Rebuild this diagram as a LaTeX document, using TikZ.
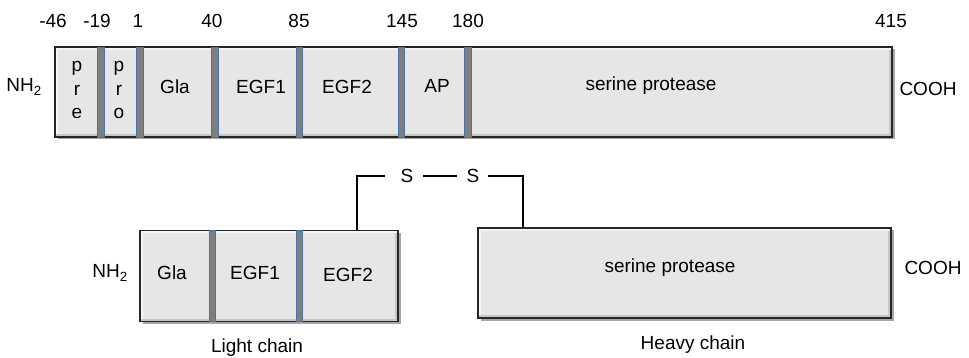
\documentclass[tikz,border=0pt]{standalone}
\usepackage{fontspec}
\setmainfont{Liberation Sans}
\usetikzlibrary{shadows,calc}
\definecolor{boxfill}{HTML}{E6E6E6}
\definecolor{sepfill}{HTML}{7F7F7F}
\definecolor{sepline}{HTML}{4A74A8}
\begin{document}
\begin{tikzpicture}[x=1pt,y=-1pt,
  domainbar/.style={draw=black!85,line width=1.3pt,fill=boxfill,inner sep=0pt,outer sep=0pt,
    drop shadow={shadow xshift=2.5pt,shadow yshift=-2.5pt,opacity=0.35,fill=black},
    path picture={
      \fill[black!22] ([yshift=3pt]path picture bounding box.south west) rectangle (path picture bounding box.south east);
      \fill[black!22] ([xshift=-3pt]path picture bounding box.north east) rectangle (path picture bounding box.south east);
      \fill[white!96!black] (path picture bounding box.north west) rectangle ([yshift=-3pt]path picture bounding box.north east);
      \fill[white!96!black] (path picture bounding box.north west) rectangle ([xshift=3pt,yshift=3pt]path picture bounding box.south west);
    }},
  sepbar/.style={draw=sepline,fill=sepfill,line width=0.9pt,minimum width=6.5pt,inner sep=0pt,outer sep=0pt},
  lbl/.style={font=\fontsize{19}{23.5}\selectfont,inner sep=0pt,text=black},
  bond/.style={line width=2pt,black}]
\useasboundingbox (0,0) rectangle (969,358);
% top precursor bar
\node[domainbar,minimum width=837pt,minimum height=90pt] (full) at (473.5,92) {};
\foreach \n/\x in {s1/101,s2/140,s3/215,s4/299.5,s5/401.5,s6/468}
  \node[sepbar,minimum height=90pt] (\n) at (\x,92) {};
% numbers
\foreach \n/\x/\t in {m46/53/-46,m19/97/-19,p1/138/1,p40/212/40,p85/299/85,p145/402/145,p180/468/180,p415/891/415}
  \node[lbl] (\n) at (\x,21) {\t};
\node[lbl] (nh1) at (24,87) {NH\textsubscript{2}};
\node[lbl] (cooh1) at (928,89) {COOH};
\node[lbl,align=center] (pre) at (77,90) {p\\r\\e};
\node[lbl,align=center] (pro) at (119,90) {p\\r\\o};
\node[lbl] (gla1) at (175,87) {Gla};
\node[lbl] (egf11) at (261,87) {EGF1};
\node[lbl] (egf21) at (347,87) {EGF2};
\node[lbl] (ap) at (437,86) {AP};
\node[lbl] (sp1) at (651,86) {serine protease};
% light chain
\node[domainbar,minimum width=258pt,minimum height=91pt] (light) at (269,276) {};
\foreach \n/\x in {l1/212.5,l2/299.5}
  \node[sepbar,minimum height=91pt] (\n) at (\x,276) {};
\node[lbl] (nh2) at (110,273) {NH\textsubscript{2}};
\node[lbl] (gla2) at (172,273) {Gla};
\node[lbl] (egf12) at (255,273) {EGF1};
\node[lbl] (egf22) at (348,275) {EGF2};
\node[lbl] (lc) at (257,348) {Light chain};
% heavy chain
\node[domainbar,minimum width=413pt,minimum height=90pt] (heavy) at (684.5,273) {};
\node[lbl] (sp2) at (670,268) {serine protease};
\node[lbl] (cooh2) at (933,268) {COOH};
\node[lbl] (hc) at (693,345) {Heavy chain};
% disulfide bond
\node[lbl] (sa) at (407,176) {S};
\node[lbl] (sb) at (473,176) {S};
\coordinate (a1) at (357,176);
\coordinate (a2) at (385,176);
\coordinate (b1) at (423,176);
\coordinate (b2) at (457,176);
\coordinate (c1) at (488,176);
\coordinate (c2) at (523,176);
\draw[bond] (light.north -| a1) -- (a1) -- (a2);
\draw[bond] (b1) -- (b2);
\draw[bond] (c1) -- (c2) -- (heavy.north -| c2);
\end{tikzpicture}
\end{document}
